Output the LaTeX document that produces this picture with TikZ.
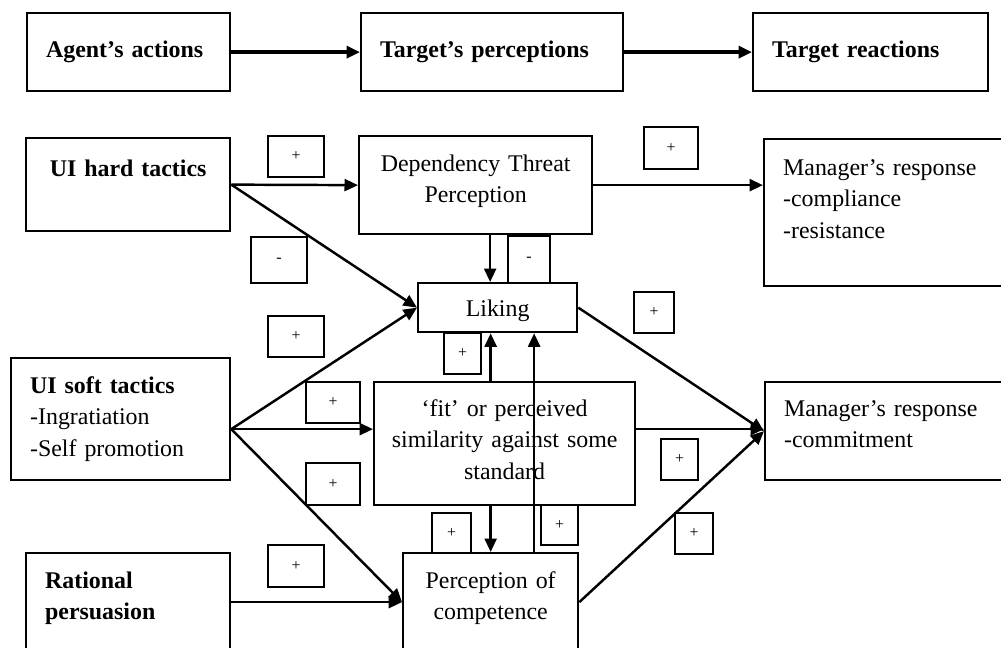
\documentclass[tikz,border=0pt]{standalone}
\usepackage{fontspec}
\setmainfont{Liberation Serif}
\usetikzlibrary{arrows.meta,
                calc, %for shifted anchors
                positioning}
\newcommand{\boxfont}{\fontsize{13.6}{18}\selectfont}
\newcommand{\signfont}{\fontsize{9}{10}\selectfont}

\begin{document}
\begin{tikzpicture}[x=0.02cm, y=-0.02cm,
                    box/.style={draw, line width=1.3pt, anchor=north west, inner ysep=0pt, inner xsep=0.38cm, align=left, font=\boxfont},
                    cbox/.style={box, inner xsep=0.1cm, align=center},
                    sz/.style n args={4}{minimum width=#1*0.02cm, text width=#2*0.02cm, text height=#3*0.02cm, text depth=#4*0.02cm},
                    sign/.style={draw, line width=1.1pt, anchor=north west, inner sep=0pt, font=\signfont},
                    arr/.style={-{Triangle[length=0.27cm, width=0.24cm]}, line width=1.4pt},
                    bigarr/.style={arr, line width=1.9pt}
                    ]
    \useasboundingbox (0,0) rectangle (1001,648);
    \clip (0,0) rectangle (1001,648);

    % HEADINGS %
    \node[box, sz={203}{165}{44}{34}] (agent) at (26,12) {\textbf{Agent's actions}};
    \node[box, sz={262}{224}{44}{34}] (tperc) at (360,12) {\textbf{Target's perceptions}};
    \node[box, sz={235}{197}{44}{34}] (treact) at (752,12) {\textbf{Target reactions}};

    \draw[bigarr] (agent) -- (tperc);
    \draw[bigarr] (tperc) -- (treact);

    % BOXES %
    \node[cbox, sz={204}{194}{38}{55}] (hard) at (25,137) {\textbf{UI hard tactics}};
    \node[box, sz={219}{181}{35}{87}] (soft) at (10,357) {\textbf{UI soft tactics}\\-Ingratiation\\-Self promotion};
    \node[box, sz={204}{166}{35}{63}] (rat) at (25,552) {\textbf{Rational}\\\textbf{persuasion}};

    \node[cbox, sz={233}{223}{35}{63}] (dep) at (358,135) {Dependency Threat\\Perception};
    \node[cbox, sz={159}{149}{33}{16}] (lik) at (417,282) {Liking};
    \node[cbox, sz={261}{251}{34}{89}] (fit) at (373,381) {`fit' or perceived\\similarity against some\\standard};
    \node[cbox, sz={175}{165}{35}{63}] (comp) at (402,552) {Perception of\\competence};

    \node[box, sz={280}{242}{36}{111}] (man1) at (763,138) {Manager's response\\-compliance\\-resistance};
    \node[box, sz={280}{242}{34}{64}] (man2) at (764,381) {Manager's response\\-commitment};

    % SIGNS %
    \foreach \n/\px/\py/\w/\h/\s in {HD/267/135/56/41/+, HL/250/236/56/46/-, DL/507/235/42/47/-,
                                     DM/643/126/54/42/+, SL/267/315/56/41/+, FL/443/332/37/41/+,
                                     LM/633/291/40/41/+, SF/305/381/54/41/+, SC/305/462/54/42/+,
                                     FM/660/438/37/41/+, FC/431/512/39/40/+, CL/540/504/37/40/+,
                                     CM/674/512/38/41/+, RC/267/544/56/42/+}
    \node[sign, minimum width=\w*0.02cm, minimum height=\h*0.02cm] (sg\n) at (\px,\py) {\s};

    % ARROWS %
    \draw[arr] (hard.east) -- (dep.west);
    \draw[arr] (hard.east) -- (lik.west);
    \draw[arr] ([xshift=0.29cm]dep.south) -- ([xshift=0.29cm]dep.south |- lik.north);
    \draw[arr] (dep.east) -- (dep.east -| man1.west);
    \draw[arr] (lik.east) -- (man2.west);

    \coordinate (sOut) at ([yshift=-0.2cm]soft.east);
    \draw[arr] (sOut) -- (lik.west);
    \draw[arr] (sOut) -- (sOut -| fit.west);
    \draw[arr] (sOut) -- (comp.west);
    \draw[arr] (rat.east) -- (comp.west);

    \draw[arr] (fit.south -| comp.north) -- (comp.north);
    \draw[arr] (fit.north -| comp.north) -- (lik.south -| comp.north);
    \draw[arr] ([xshift=0.87cm]comp.north) -- ([xshift=0.87cm]comp.north |- lik.south);
    \draw[arr] (sOut -| fit.east) -- (sOut -| man2.west);
    \draw[arr] (comp.east) -- (man2.west);

\end{tikzpicture}
\end{document}
